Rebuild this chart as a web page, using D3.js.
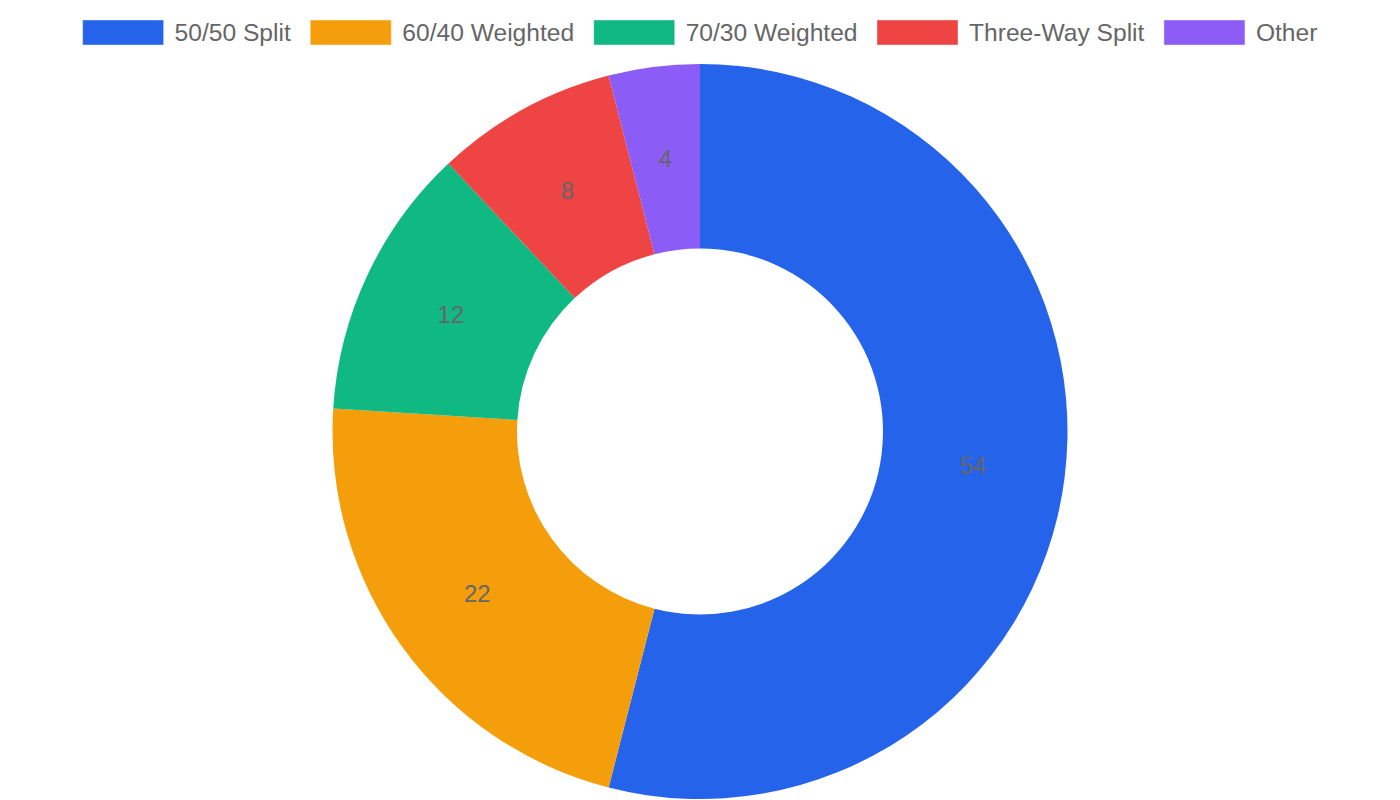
<!DOCTYPE html>
<html><head><meta charset="utf-8">
<script src="https://cdn.jsdelivr.net/npm/d3@7"></script>
<style>html,body{margin:0;padding:0;background:#fff;}svg{display:block;}</style>
</head><body>
<svg id="chart" width="1400" height="800"></svg>
<script>
const categories = ["50/50 Split", "60/40 Weighted", "70/30 Weighted", "Three-Way Split", "Other"];
const values = [54, 22, 12, 8, 4];
const colors = ["#2563eb", "#f59e0b", "#10b981", "#ef4444", "#8b5cf6"];

const svg = d3.select("#chart");
const W = 1400, H = 800;
const cx = 700, cy = 431.5, outerR = 367.5, innerR = 183;
const font = "'Liberation Sans', Arial, Helvetica, sans-serif";

const pie = d3.pie().sort(null).value(d => d)(values);
const arc = d3.arc().innerRadius(innerR).outerRadius(outerR);
const labelArc = d3.arc().innerRadius((innerR + outerR) / 2).outerRadius((innerR + outerR) / 2);

const g = svg.append("g").attr("transform", `translate(${cx},${cy})`);
g.selectAll("path").data(pie).enter().append("path")
  .attr("d", arc).attr("fill", (d, i) => colors[i]);
g.selectAll("text").data(pie).enter().append("text")
  .attr("transform", d => `translate(${labelArc.centroid(d)})`)
  .attr("text-anchor", "middle").attr("dominant-baseline", "central")
  .attr("font-family", font).attr("font-size", 24).attr("fill", "#666")
  .text(d => d.data);

// legend
const legend = svg.append("g");
const boxW = 80, boxH = 24, textGap = 12, itemGap = 19.5, fs = 24.6;
const items = legend.selectAll("g").data(categories).enter().append("g");
items.append("rect").attr("width", boxW).attr("height", boxH)
  .attr("x", 0.5).attr("y", 0.5)
  .attr("fill", (d, i) => colors[i]).attr("stroke", (d, i) => colors[i]).attr("stroke-opacity", 0.6);
items.append("text").attr("x", boxW + textGap).attr("y", boxH / 2)
  .attr("dominant-baseline", "central")
  .attr("font-family", font).attr("font-size", fs).attr("fill", "#666")
  .text(d => d);
const widths = [];
items.each(function () { widths.push(boxW + textGap + this.querySelector("text").getComputedTextLength()); });
const total = d3.sum(widths) + itemGap * (widths.length - 1);
let x = (W - total) / 2;
items.attr("transform", (d, i) => { const t = `translate(${x},20)`; x += widths[i] + itemGap; return t; });
</script>
</body></html>
